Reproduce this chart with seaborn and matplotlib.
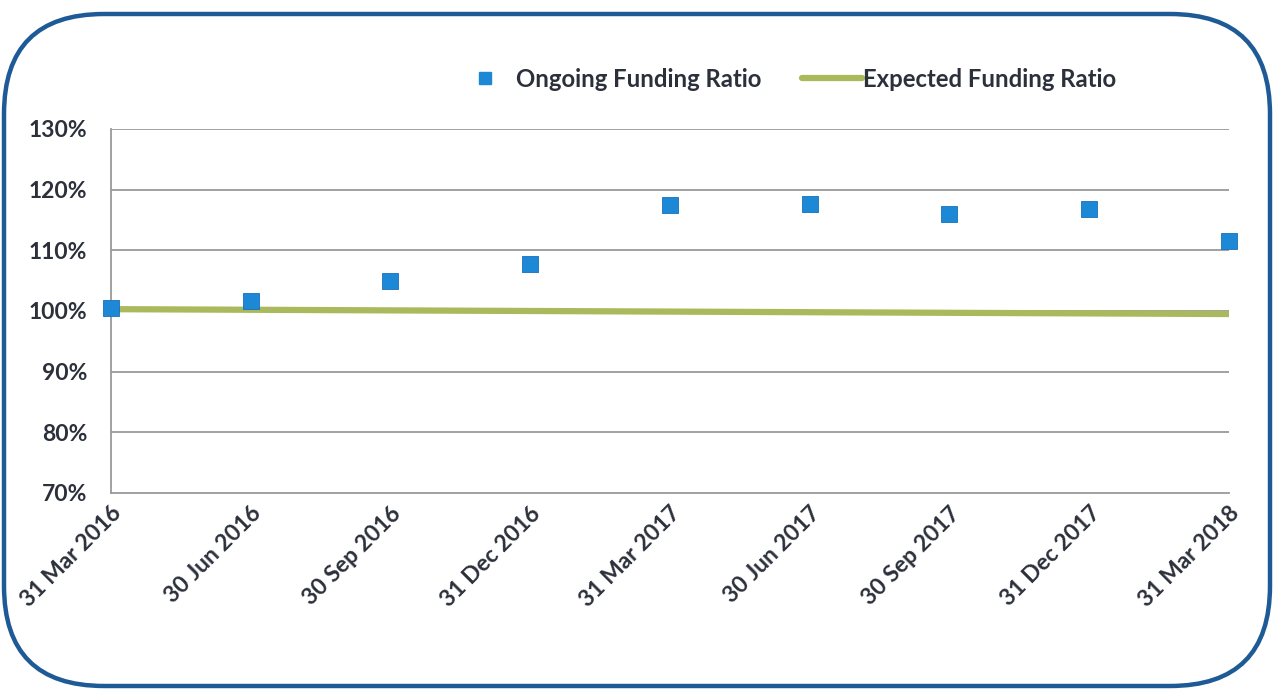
import numpy as np
import pandas as pd
import matplotlib.pyplot as plt
import seaborn as sns
from matplotlib.patches import FancyBboxPatch
from matplotlib.lines import Line2D

dates = ['31 Mar 2016', '30 Jun 2016', '30 Sep 2016', '31 Dec 2016', '31 Mar 2017',
         '30 Jun 2017', '30 Sep 2017', '31 Dec 2017', '31 Mar 2018']
ongoing = [100.5, 101.7, 105.0, 107.7, 117.4, 117.6, 116.0, 116.8, 111.5]
expected = [100.3, 100.2, 100.1, 100.0, 99.9, 99.8, 99.7, 99.6, 99.5]
yticks = [70, 80, 90, 100, 110, 120, 130]

df = pd.DataFrame({'pos': range(len(dates)), 'date': dates,
                   'ongoing': ongoing, 'expected': expected})

sns.set_style('white')
plt.rcParams['font.family'] = ['Lato', 'DejaVu Sans']

text_col = '#2b303b'
blue = '#1d88d6'
olive = '#a9b95c'
grid_col = '#9a9a9a'

fig = plt.figure(figsize=(12.73, 6.89), dpi=100)
ax = fig.add_axes([0.0872, 0.2845, 0.8782, 0.5283])

# gridlines
for v in yticks[1:]:
    ax.axhline(v, color=grid_col, lw=1.3, zorder=0)

sns.lineplot(data=df, x='pos', y='expected', color=olive, lw=4.5, ax=ax, zorder=2)
sns.scatterplot(data=df, x='pos', y='ongoing', marker='s', s=140, color=blue,
                edgecolor='#1670b8', linewidth=0.6, ax=ax, zorder=3, clip_on=False)

ax.set_xlim(0, 8)
ax.set_ylim(70, 130)
ax.set_yticks(yticks)
ax.set_yticklabels([f'{v}%' for v in yticks])
ax.set_xticks(range(len(dates)))
ax.set_xticklabels(dates, rotation=45, ha='right', rotation_mode='anchor')
ax.set_xlabel('')
ax.set_ylabel('')
ax.tick_params(axis='both', labelsize=16.5, colors=grid_col, labelcolor=text_col,
               length=6, width=1.2)
ax.tick_params(axis='x', pad=1)
ax.tick_params(axis='y', pad=11)
for lbl in ax.get_xticklabels() + ax.get_yticklabels():
    lbl.set_fontweight('bold')

for s in ['top', 'right']:
    ax.spines[s].set_visible(False)
for s in ['left', 'bottom']:
    ax.spines[s].set_color(grid_col)
    ax.spines[s].set_linewidth(1.3)
ax.patch.set_alpha(0)

handles = [Line2D([], [], marker='s', ls='none', color=blue, markersize=9),
           Line2D([], [], color=olive, lw=4.5)]
fig.legend(handles, ['Ongoing Funding Ratio', 'Expected Funding Ratio'],
           loc='center', bbox_to_anchor=(0.617, 0.885), ncol=2, frameon=False,
           prop={'size': 17.2, 'weight': 'bold'}, labelcolor=text_col,
           handlelength=2.5, handletextpad=0.05, columnspacing=1.7)

# rounded frame (inches)
frame = FancyBboxPatch((0.04, 0.03), 12.66, 6.72,
                       boxstyle='round,pad=0,rounding_size=1.0',
                       transform=fig.dpi_scale_trans, fill=False,
                       edgecolor='#1e5a96', lw=3.2)
fig.patches.append(frame)

fig.savefig('out.png', dpi=100)
